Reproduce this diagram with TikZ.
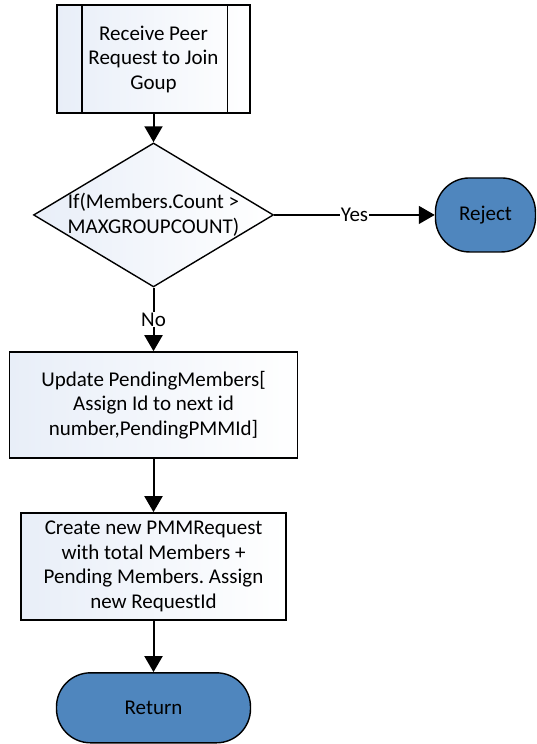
\documentclass[tikz,border=0pt]{standalone}
\usepackage{fontspec}
\setmainfont{Carlito}
\usetikzlibrary{shapes.geometric,arrows.meta}
\definecolor{lightbox}{RGB}{232,238,248}
\definecolor{termblue}{RGB}{79,134,190}
\frenchspacing
\begin{document}
\begin{tikzpicture}[
  font=\fontsize{21}{24.5}\selectfont,
  procbox/.style={rectangle, draw, line width=1.4pt, left color=lightbox,
    right color=white, align=center, inner sep=2pt},
  decision/.style={diamond, draw, line width=1.4pt, left color=lightbox,
    right color=white, align=center, aspect=1.67, inner sep=-2pt},
  terminal/.style={rectangle, rounded corners=34pt, draw, line width=1.4pt,
    fill=termblue, align=center},
  flowline/.style={-{Triangle[length=16pt,width=18pt]}, line width=2pt}]
  \useasboundingbox (0,0) rectangle (536pt,-744pt);
  \node[procbox,
  minimum width=193pt,
  minimum height=108pt] (recv) at (153.5pt,-59pt) {Receive Peer\\Request to Join\\Goup};
  \draw[line width=1.4pt] ([xshift=25.5pt]recv.north west) -- ([xshift=25.5pt]recv.south west);
  \draw[line width=1.4pt] ([xshift=-23pt]recv.north east) -- ([xshift=-23pt]recv.south east);

  \node[
  below of=recv,
  decision,
  minimum width=240pt,
  minimum height=144pt,
  yshift=-127.5pt] (dec) {If(Members.Count >\\MAXGROUPCOUNT)};

  \node[
  right of=dec,
  terminal,
  minimum width=100pt,
  minimum height=74pt,
  xshift=303.5pt] (rej) {Reject};

  \node[
  below of=dec,
  procbox,
  minimum width=288pt,
  minimum height=106pt,
  yshift=-161.5pt] (upd) {Update PendingMembers[\\Assign Id to next id\\number,PendingPMMId]};

  \node[
  below of=upd,
  procbox,
  minimum width=265pt,
  minimum height=107pt,
  yshift=-133pt] (crt) {Create new PMMRequest\\with total Members +\\Pending Members. Assign\\new RequestId};

  \node[
  below of=crt,
  terminal,
  minimum width=194pt,
  minimum height=70pt,
  yshift=-113pt] (ret) {Return};

  \draw[flowline] (recv)--(dec);
  \draw[flowline, line width=1.6pt] (dec.east)--node[fill=white, inner sep=1pt] {Yes} (rej.west);
  \draw[flowline] (dec.south)--node[fill=white, inner sep=1pt] {No} (upd.north);
  \draw[flowline] (upd)--(crt);
  \draw[flowline] (crt)--(ret);
\end{tikzpicture}
\end{document}
